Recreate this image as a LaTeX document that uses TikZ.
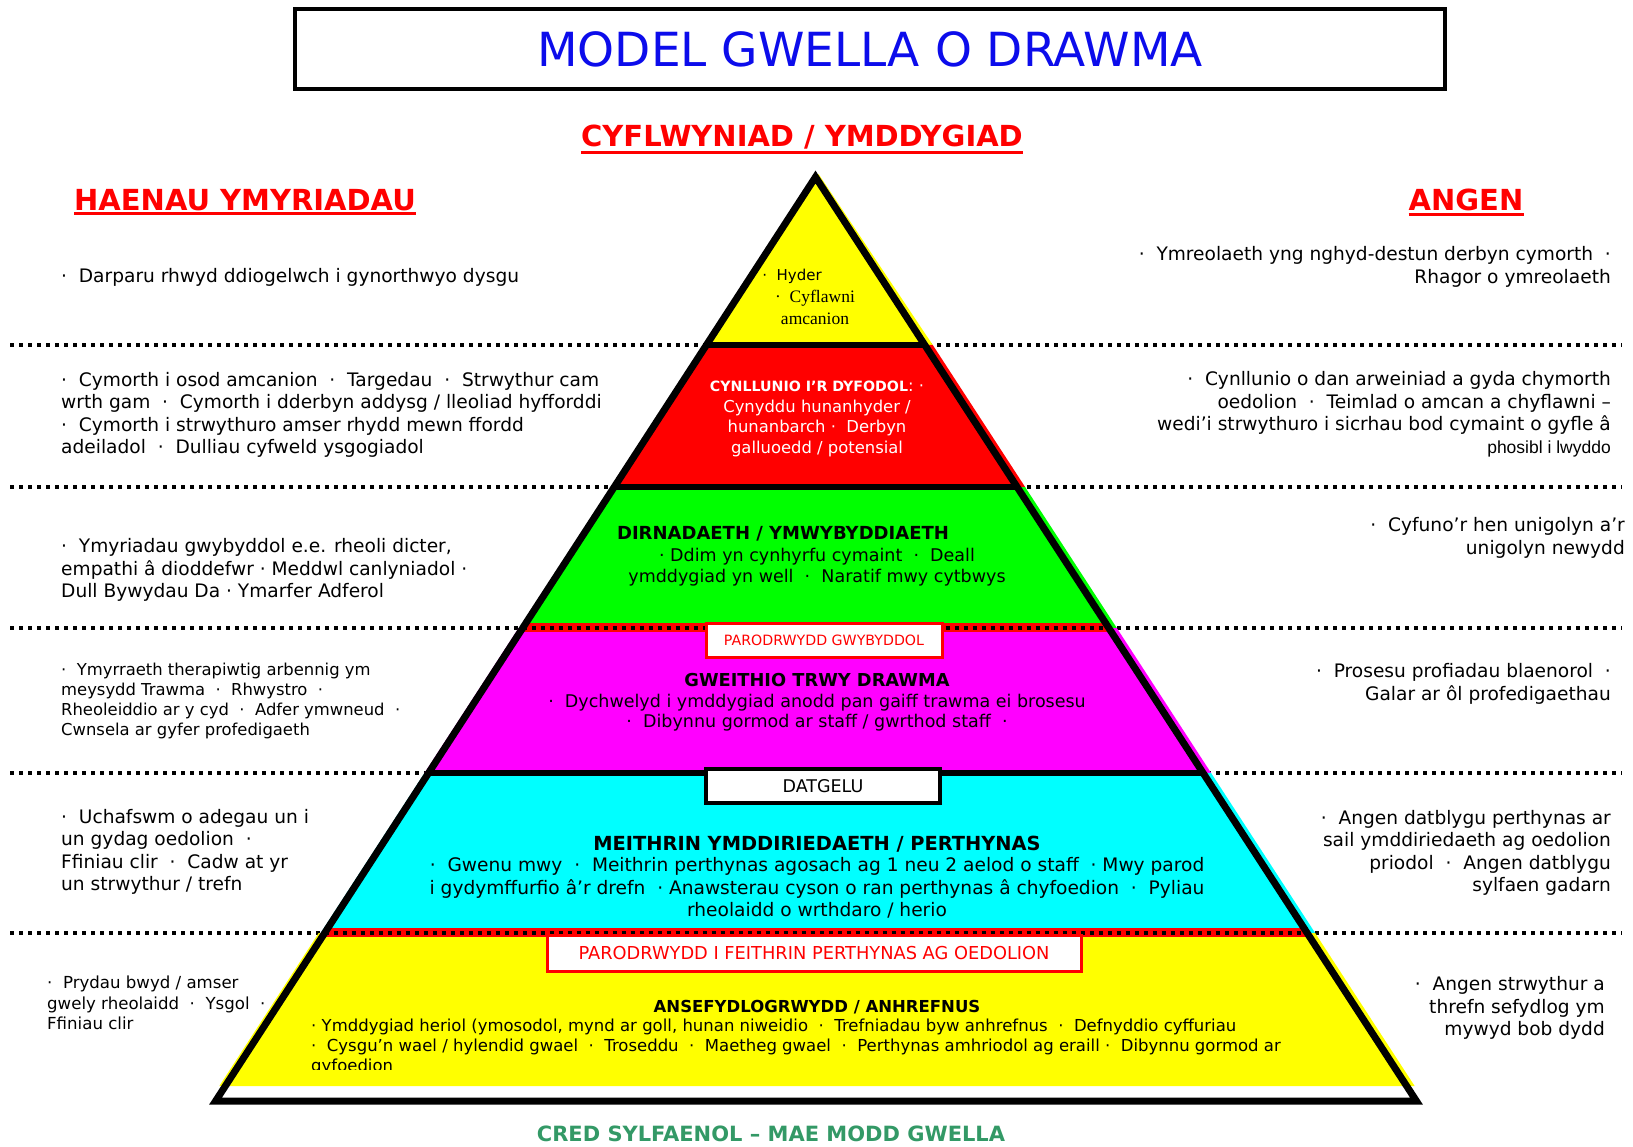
\documentclass[tikz,border=0pt]{standalone}
\usepackage{fontspec}
\setmainfont{DejaVu Sans}
\newfontfamily\serifx{Liberation Serif}
\newfontfamily\arialx{Liberation Sans}
\usetikzlibrary{calc}
\definecolor{titleblue}{RGB}{12,12,235}
\definecolor{credgreen}{RGB}{51,153,102}
\definecolor{pyyellow}{RGB}{255,255,0}
\definecolor{pyred}{RGB}{255,0,0}
\definecolor{pygreen}{RGB}{0,255,0}
\definecolor{pymag}{RGB}{255,0,255}
\definecolor{pycyan}{RGB}{0,255,255}
\begin{document}
\begin{tikzpicture}[x=1pt,y=-1pt,
  txt/.style={inner sep=0pt, font=\fontsize{18.6}{22.5}\selectfont},
  smtxt/.style={inner sep=0pt, font=\fontsize{16.4}{20}\selectfont},
  bandtxt/.style={inner sep=0pt, font=\fontsize{17.5}{20.5}\selectfont, align=center},
  bandhead/.style={inner sep=0pt, font=\fontsize{17.8}{20}\selectfont\bfseries},
  heading/.style={inner sep=0pt, text=pyred, font=\fontsize{29}{31}\selectfont\bfseries},
  uline/.style={pyred, line width=3pt},
  dotline/.style={line width=4pt, dash pattern=on 4pt off 5pt},
  lbox/.style={draw, fill=white, line width=3pt, inner sep=0pt, minimum height=34pt},
  sep/.style={line width=6pt}
]
\useasboundingbox (0,0) rectangle (1633,1146);

% title
\node[draw, line width=4pt, minimum width=1150pt, minimum height=80pt, inner sep=0pt,
      text=titleblue, font=\fontsize{47}{50}\selectfont] (title) at (870,49) {MODEL GWELLA O DRAWMA};

% headings
\node[heading] (h1) at (802,137) {CYFLWYNIAD / YMDDYGIAD};
\draw[uline] ($(h1.south west)+(0,3)$) -- ($(h1.south east)+(0,3)$);
\node[heading] (h2) at (245,200) {HAENAU YMYRIADAU};
\draw[uline] ($(h2.south west)+(0,3)$) -- ($(h2.south east)+(0,3)$);
\node[heading] (h3) at (1466,200) {ANGEN};
\draw[uline] ($(h3.south west)+(0,3)$) -- ($(h3.south east)+(0,3)$);

% dotted separators
\foreach \y in {345,487,628,773,933} \draw[dotline] (10,\y) -- (1622,\y);

% pyramid geometry
\coordinate (A) at (815.5,177);
\coordinate (BL) at (215.6,1101);
\coordinate (BR) at (1416.4,1101);
\foreach \n/\t in {1/0.1818,2/0.3355,3/0.4881,4/0.6450,5/0.8182,6/0.9838} {
  \coordinate (L\n) at ($(A)!\t!(BL)$);
  \coordinate (R\n) at ($(A)!\t!(BR)$);
}

% band fills
\fill[pyyellow] ($(A)+(3,-3)$) -- ($(R1)+(8,0)$) -- ($(L1)+(-2,0)$) -- cycle;
\fill[pyred] ($(L1)+(-3,0)$) -- ($(R1)+(8,0)$) -- ($(R2)+(8,0)$) -- ($(L2)+(-3,0)$) -- cycle;
\fill[pygreen] ($(L2)+(-3,0)$) -- ($(R2)+(8,0)$) -- ($(R3)+(8,0)$) -- ($(L3)+(-3,0)$) -- cycle;
\fill[pymag] ($(L3)+(-4,0)$) -- ($(R3)+(8,0)$) -- ($(R4)+(8,0)$) -- ($(L4)+(-4,0)$) -- cycle;
\fill[pycyan] ($(L4)+(-4,0)$) -- ($(R4)+(8,0)$) -- ($(R5)+(8,0)$) -- ($(L5)+(-4,0)$) -- cycle;
\fill[pyyellow] ($(L5)+(-6,0)$) -- ($(R5)+(8,0)$) -- ($(R6)+(8,0)$) -- ($(L6)+(-6,0)$) -- cycle;

% red dotted strips
\fill[pyred] ($(L3)+(0,-5)$) rectangle ($(R3)+(0,4)$);
\draw[dotline] (L3) -- (R3);
\fill[pyred] ($(L5)+(0,-5)$) rectangle ($(R5)+(0,4)$);
\draw[dotline] (L5) -- (R5);

% black separators and outline
\draw[sep] (L1) -- (R1);
\draw[sep] (L2) -- (R2);
\draw[sep] (L4) -- (R4);
\draw[line width=7pt, line join=miter, miter limit=20] (A) -- (BR) -- (BL) -- cycle;

% label boxes
\node[lbox, draw=pyred, text=pyred, minimum width=236pt, font=\fontsize{14.2}{16}\selectfont] (pg) at (824,640) {PARODRWYDD GWYBYDDOL};
\node[lbox, draw=black, minimum width=234pt, line width=3.5pt, font=\fontsize{17.5}{19}\selectfont] (dg) at (823,786) {DATGELU};
\node[lbox, draw=pyred, text=pyred, minimum width=534pt, minimum height=36pt, font=\fontsize{17.8}{19}\selectfont] (pf) at (814,953) {PARODRWYDD I FEITHRIN PERTHYNAS AG OEDOLION};

% pyramid texts
\node[inner sep=0pt, font=\fontsize{15}{16}\selectfont] (hyder) at (792,276) {· \ Hyder};
\node[inner sep=0pt, align=center, font=\serifx\fontsize{17.5}{22}\selectfont] (cyfl) at (815,307) {·\ \ Cyflawni\\ amcanion};

\node[bandtxt, text=white, font=\fontsize{16.4}{20.5}\selectfont] (plan) at (817,419) {{\fontsize{14.2}{20.5}\selectfont\bfseries CYNLLUNIO I’R DYFODOL}: ·\\ Cynyddu hunanhyder /\\ hunanbarch · \ Derbyn\\ galluoedd / potensial};

\node[bandhead, font=\fontsize{18}{20}\selectfont\bfseries] (dirh) at (783,534) {DIRNADAETH / YMWYBYDDIAETH};
\node[bandtxt] (dirt) at (817,567) {· Ddim yn cynhyrfu cymaint \ · \ Deall\\ ymddygiad yn well \ · \ Naratif mwy cytbwys};

\node[bandhead] (gwh) at (817,680) {GWEITHIO TRWY DRAWMA};
\node[bandtxt, font=\fontsize{17.5}{20}\selectfont] (gwt) at (817,713) {· \ Dychwelyd i ymddygiad anodd pan gaiff trawma ei brosesu\\ · \ Dibynnu gormod ar staff / gwrthod staff \ ·};

\node[bandhead, font=\fontsize{19.4}{21}\selectfont\bfseries] (meh) at (817,844) {MEITHRIN YMDDIRIEDAETH / PERTHYNAS};
\node[bandtxt, font=\fontsize{18.6}{22.5}\selectfont] (met) at (817,888) {· \ Gwenu mwy \ · \ Meithrin perthynas agosach ag 1 neu 2 aelod o staff \ · Mwy parod\\ i gydymffurfio â’r drefn \ · Anawsterau cyson o ran perthynas â chyfoedion \ · \ Pyliau\\ rheolaidd o wrthdaro / herio};

\node[bandhead, font=\fontsize{16.5}{18}\selectfont\bfseries] (anh) at (817,1007) {ANSEFYDLOGRWYDD / ANHREFNUS};
\begin{scope}
\clip (0,1014) rectangle (1633,1069);
\node[smtxt, font=\fontsize{16.5}{20}\selectfont, anchor=north west, align=left] (ant) at (311,1019) {· Ymddygiad heriol (ymosodol, mynd ar goll, hunan niweidio \ · \ Trefniadau byw anhrefnus \ · \ Defnyddio cyffuriau\\ · \ Cysgu’n wael / hylendid gwael \ · \ Troseddu \ · \ Maetheg gwael \ · \ Perthynas amhriodol ag eraill · \ Dibynnu gormod ar\\ gyfoedion};
\end{scope}

% left column
\node[txt, anchor=west] (l1) at (61,277) {· \ Darparu rhwyd ddiogelwch i gynorthwyo dysgu};
\node[txt, anchor=west, align=left] (l2) at (61,415) {· \ Cymorth i osod amcanion \ · \ Targedau \ · \ Strwythur cam\\ wrth gam \ · \ Cymorth i dderbyn addysg / lleoliad hyfforddi\\ · \ Cymorth i strwythuro amser rhydd mewn ffordd\\ adeiladol \ · \ Dulliau cyfweld ysgogiadol};
\node[txt, anchor=west, align=left] (l3) at (61,570) {· \ Ymyriadau gwybyddol e.e. rheoli dicter,\\ empathi â dioddefwr · Meddwl canlyniadol ·\\ Dull Bywydau Da · Ymarfer Adferol};
\node[smtxt, anchor=west, align=left] (l4) at (61,701) {· \ Ymyrraeth therapiwtig arbennig ym\\ meysydd Trawma \ · \ Rhwystro \ ·\\ Rheoleiddio ar y cyd \ · \ Adfer ymwneud \ ·\\ Cwnsela ar gyfer profedigaeth};
\node[txt, anchor=west, align=left] (l5) at (61,852) {· \ Uchafswm o adegau un i\\ un gydag oedolion \ ·\\ Ffiniau clir \ · \ Cadw at yr\\ un strwythur / trefn};
\node[smtxt, anchor=west, align=left, font=\fontsize{16.6}{20.5}\selectfont] (l6) at (47,1003) {· \ Prydau bwyd / amser\\ gwely rheolaidd \ · \ Ysgol \ ·\\ Ffiniau clir};

% right column
\node[txt, anchor=east, align=right] (r1) at (1611,267) {· \ Ymreolaeth yng nghyd-destun derbyn cymorth \ ·\\ Rhagor o ymreolaeth};
\node[txt, anchor=east, align=right] (r2) at (1611,414) {· \ Cynllunio o dan arweiniad a gyda chymorth\\ oedolion \ · \ Teimlad o amcan a chyflawni –\\ wedi’i strwythuro i sicrhau bod cymaint o gyfle â\\ {\arialx\fontsize{17.5}{22.5}\selectfont phosibl i lwyddo}};
\node[txt, anchor=east, align=right] (r3) at (1625,538) {· \ Cyfuno’r hen unigolyn a’r\\ unigolyn newydd};
\node[txt, anchor=east, align=right] (r4) at (1611,684) {· \ Prosesu profiadau blaenorol \ ·\\ Galar ar ôl profedigaethau};
\node[txt, anchor=east, align=right] (r5) at (1611,853) {· \ Angen datblygu perthynas ar\\ sail ymddiriedaeth ag oedolion\\ priodol \ · \ Angen datblygu\\ sylfaen gadarn};
\node[txt, anchor=east, align=right] (r6) at (1605,1008) {· \ Angen strwythur a\\ threfn sefydlog ym\\ mywyd bob dydd};

% bottom caption
\node[inner sep=0pt, text=credgreen, font=\fontsize{21}{24}\selectfont\bfseries] (cred) at (771,1134) {CRED SYLFAENOL – MAE MODD GWELLA};
\end{tikzpicture}
\end{document}
